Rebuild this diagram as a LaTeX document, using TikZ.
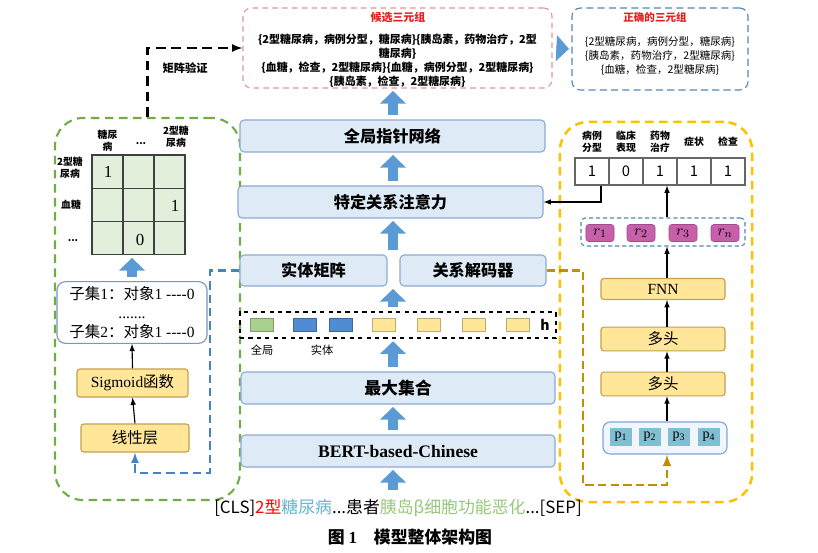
\documentclass[tikz,border=0pt]{standalone}
\usepackage{fontspec}
\setmainfont{Noto Sans CJK SC}
\newfontfamily\tnr{Liberation Serif}
\usepackage{tikz}
\usetikzlibrary{arrows, arrows.meta}

\definecolor{boxfill}{RGB}{222,235,247}
\definecolor{boxline}{RGB}{143,170,210}
\definecolor{yelfill}{RGB}{255,230,153}
\definecolor{yelline}{RGB}{196,160,80}
\definecolor{fatblue}{RGB}{91,155,213}
\definecolor{grn}{RGB}{112,173,71}
\definecolor{gold}{RGB}{255,192,0}
\definecolor{darkgold}{RGB}{191,144,0}
\definecolor{dashblue}{RGB}{70,130,200}
\definecolor{pinkline}{RGB}{225,150,150}
\definecolor{tealline}{RGB}{80,135,180}
\definecolor{titlered}{RGB}{230,30,30}
\definecolor{cellgreen}{RGB}{226,239,218}
\definecolor{hgreen}{RGB}{169,209,142}
\definecolor{hblue}{RGB}{80,140,210}
\definecolor{hyel}{RGB}{255,230,153}
\definecolor{rmag}{RGB}{200,95,170}
\definecolor{pteal}{RGB}{130,190,210}
\definecolor{pfill}{RGB}{240,246,252}
\definecolor{subline}{RGB}{120,150,190}
\definecolor{txtblue}{RGB}{100,180,210}
\definecolor{txtgreen}{RGB}{150,200,120}

\tikzset{
  bluebox/.style={draw=boxline, fill=boxfill, rounded corners=3pt, line width=0.8pt, minimum width=7.625cm, minimum height=0.8cm, font=\fontsize{11.5}{13}\selectfont\bfseries},
  yelbox/.style={draw=yelline, fill=yelfill, rounded corners=2pt, line width=0.8pt, minimum height=0.7cm, font=\fontsize{11}{12}\selectfont},
  fat/.style={draw=fatblue, line width=7pt, -{Triangle[width=18pt,length=9pt]}, shorten <=0.1cm, shorten >=0.06cm},
  lab/.style={align=center, inner sep=1pt, font=\fontsize{7}{8.5}\selectfont\bfseries},
  cell/.style={draw=black!75, fill=cellgreen, line width=0.8pt, minimum width=0.775cm, minimum height=0.833cm, inner sep=0pt},
  vcell/.style={draw=black!60, fill=white, line width=0.8pt, minimum width=0.85cm, minimum height=0.675cm, font=\fontsize{10.5}{12}\selectfont},
  hsq/.style={minimum width=0.575cm, minimum height=0.325cm, inner sep=0pt},
  rsq/.style={fill=rmag, draw=rmag!80!black, rounded corners=2pt, minimum width=0.7cm, minimum height=0.425cm, inner sep=0pt, font=\fontsize{11}{11}\selectfont},
  psq/.style={fill=pteal, minimum width=0.55cm, minimum height=0.45cm, inner sep=0pt, font=\tnr\fontsize{10}{11}\selectfont},
  bluedash/.style={draw=dashblue, line width=1.5pt, dash pattern=on 6pt off 3.5pt},
  golddash/.style={draw=darkgold, line width=1.8pt, dash pattern=on 6pt off 3pt}
}

\begin{document}
\begin{tikzpicture}[x=0.025cm, y=-0.025cm, >=latex]
\useasboundingbox (0,0) rectangle (818,553);

% outer dashed boxes
\node[draw=grn, line width=1.5pt, dash pattern=on 6pt off 4pt, rounded corners=20pt, minimum width=4.625cm, minimum height=9.55cm] (leftbox) at (147.5,309) {};
\node[draw=gold, line width=1.8pt, dash pattern=on 6pt off 4pt, rounded corners=20pt, minimum width=4.8cm, minimum height=9.5cm] (rightbox) at (656,312) {};

% triples
\node[draw=pinkline, line width=0.8pt, dash pattern=on 4pt off 3pt, rounded corners=6pt, minimum width=7.725cm, minimum height=2cm] (cand) at (397.5,48) {};
\node[text=titlered, font=\fontsize{7.8}{9}\selectfont\bfseries] (candtitle) at (398,17) {候选三元组};
\node[align=center, font=\fontsize{7.8}{10}\selectfont\bfseries] (candtext) at (397.5,61) {\{2型糖尿病，病例分型，糖尿病\}\{胰岛素，药物治疗，2型\\糖尿病\}\\\{血糖，检查，2型糖尿病\}\{血糖，病例分型，2型糖尿病\}\\\{胰岛素，检查，2型糖尿病\}};
\node[draw=tealline, line width=0.8pt, dash pattern=on 5pt off 3pt, rounded corners=6pt, minimum width=4.4cm, minimum height=2.05cm] (corr) at (660,49) {};
\node[text=titlered, font=\fontsize{7.5}{9}\selectfont\bfseries] (corrtitle) at (655,17) {正确的三元组};
\node[align=center, font=\fontsize{7.5}{10}\selectfont] (corrtext) at (660,56) {\{2型糖尿病，病例分型，糖尿病\}\\\{胰岛素，药物治疗，2型糖尿病\}\\\{血糖，检查，2型糖尿病\}};
\draw[fat] (cand.east) -- (corr.west);

% matrix part
\draw[->, line width=1.5pt, dash pattern=on 7pt off 4pt] (leftbox.north) |- (cand.west);
\node[font=\fontsize{8}{9}\selectfont\bfseries] (verify) at (185,68) {矩阵验证};
\foreach \r in {1,2,3}
  \foreach \c in {1,2,3}
    \node[cell] (m-\r-\c) at ({76.5+31*\c},{138.35+33.3*\r}) {};
\node[font=\tnr\fontsize{12}{12}\selectfont] (v11) at (108,172) {1};
\node[font=\tnr\fontsize{12}{12}\selectfont] (v23) at (175,206) {1};
\node[font=\tnr\fontsize{12}{12}\selectfont] (v32) at (140,240) {0};
\node[lab] (h1) at (107.5,141) {糖尿\\病};
\node[lab] (h2) at (141,144) {...};
\node[lab] (h3) at (176,137) {2型糖\\尿病};
\node[lab] (rw1) at (70,168) {2型糖\\尿病};
\node[lab] (rw2) at (71,205) {血糖};
\node[lab] (rw3) at (73,241) {...};

\node[draw=subline, fill=white, rounded corners=6pt, line width=0.8pt, minimum width=3.75cm, minimum height=1.475cm, align=center, font=\fontsize{11}{13.5}\selectfont] (subset) at (132,312.5) {子集{\tnr 1}：对象{\tnr 1 ----0}\\{\tnr .......}\\子集{\tnr 2}：对象{\tnr 1 ----0}};
\node[yelbox, minimum width=2.775cm] (sig) at (132.5,383) {{\tnr Sigmoid}函数};
\node[yelbox, minimum width=2.7cm] (lin) at (135,438) {线性层};
\draw[fat] (subset.north) -- (subset.north |- m-3-2.south);
\draw[->, line width=0.8pt] (sig.north) -- (subset.south);
\draw[->, line width=0.8pt] (lin.north) -- (sig.south);

% main column
\coordinate (axis) at (393,0);
\node[bluebox] (gp) at (392.5,136) {全局指针网络};
\node[bluebox] (att) at (390.5,202) {特定关系注意力};
\node[bluebox, minimum width=3.675cm, minimum height=0.775cm] (ent) at (313.5,270.5) {实体矩阵};
\node[bluebox, minimum width=3.65cm, minimum height=0.775cm] (rel) at (473,270.5) {关系解码器};
\node[draw, dashed, line width=1.2pt, minimum width=7.9cm, minimum height=0.65cm] (hrow) at (398,325) {};
\foreach \x/\c [count=\i] in {262/hgreen, 305/hblue, 341/hblue, 384/hyel, 429/hyel, 474/hyel, 518/hyel}
  \node[hsq, fill=\c, draw=\c!75!black] (s\i) at (\x,325) {};
\node[font=\fontsize{10}{12}\selectfont\bfseries] (hlab) at (545,325) {h};
\node[font=\fontsize{8}{9}\selectfont] (glob) at (262,350) {全局};
\node[font=\fontsize{8}{9}\selectfont] (entlab) at (322,350) {实体};
\node[bluebox, minimum width=7.85cm, font=\fontsize{12}{13}\selectfont\bfseries] (maxp) at (398,388) {最大集合};
\node[bluebox, minimum width=7.85cm, font=\tnr\fontsize{12.5}{14}\selectfont\bfseries] (bert) at (398,451) {BERT-based-Chinese};
\node[font=\fontsize{12}{14}\selectfont] (inp) at (398,508) {[CLS]\textcolor{red}{2型}\textcolor{txtblue}{糖尿病}...患者\textcolor{txtgreen}{胰岛β细胞功能恶化}...[SEP]};
\node[font=\fontsize{12}{14}\selectfont\bfseries] (cap) at (410,537) {图 {\tnr 1}\quad 模型整体架构图};

\draw[fat] (axis |- gp.north) -- (axis |- cand.south);
\draw[fat] (axis |- att.north) -- (axis |- gp.south);
\draw[fat] (axis |- ent.north) -- (axis |- att.south);
\draw[fat] (axis |- hrow.north) -- (axis |- ent.south);
\draw[fat] (axis |- maxp.north) -- (axis |- hrow.south);
\draw[fat] (axis |- bert.north) -- (axis |- maxp.south);
\draw[fat] (axis |- inp.north) -- (axis |- bert.south);

% relation part
\coordinate (rax) at (667,0);
\foreach \v [count=\i] in {1,0,1,1,1}
  \node[vcell] (c\i) at ({558+34*\i},171.5) {\v};
\foreach \t [count=\i] in {病例\\分型, 临床\\表现, 药物\\治疗, 症状, 检查}
  \node[lab] (t\i) at ({558+34*\i},142) {\t};
\draw[->, line width=0.8pt] ([xshift=0.225cm]c1.south) |- (att.east);
\node[draw=tealline, line width=0.8pt, dash pattern=on 3pt off 2pt, fill=white, rounded corners=3pt, minimum width=4.1cm, minimum height=0.7cm] (rbox) at (663,232) {};
\foreach \x/\t [count=\i] in {600/1, 641/2, 683/3, 725/n}
  \node[rsq] (r\i) at (\x,233) {$r_{\t}$};
\node[yelbox, minimum width=3.1cm, minimum height=0.525cm] (fnn) at (663,289) {\tnr FNN};
\node[yelbox, minimum width=3.1cm, minimum height=0.525cm] (mh2) at (663,339) {多头};
\node[yelbox, minimum width=3.1cm, minimum height=0.525cm] (mh1) at (663,384) {多头};
\node[draw=dashblue!70, fill=pfill, rounded corners=5pt, line width=0.8pt, minimum width=3.1cm, minimum height=0.8cm] (pbox) at (665,438) {};
\foreach \x [count=\i] in {621,650,679,709}
  \node[psq] (p\i) at (\x,437) {p\textsubscript{\i}};
\draw[->, line width=0.8pt] (rax |- rbox.north) -- (rax |- c3.south);
\draw[->, line width=0.8pt] (rax |- fnn.north) -- (rax |- rbox.south);
\draw[->, line width=0.8pt] (rax |- mh2.north) -- (rax |- fnn.south);
\draw[->, line width=0.8pt] (rax |- mh1.north) -- (rax |- mh2.south);
\draw[->, line width=0.8pt] (rax |- pbox.north) -- (rax |- mh1.south);

% dashed links
\coordinate (bc) at (210,473);
\draw[bluedash, ->] (ent.west) -| (bc) -| (lin.south);
\coordinate (oc) at (583,485);
\draw[golddash, ->] (rel.east) -| (oc) -| (rax |- pbox.south);
\end{tikzpicture}
\end{document}
